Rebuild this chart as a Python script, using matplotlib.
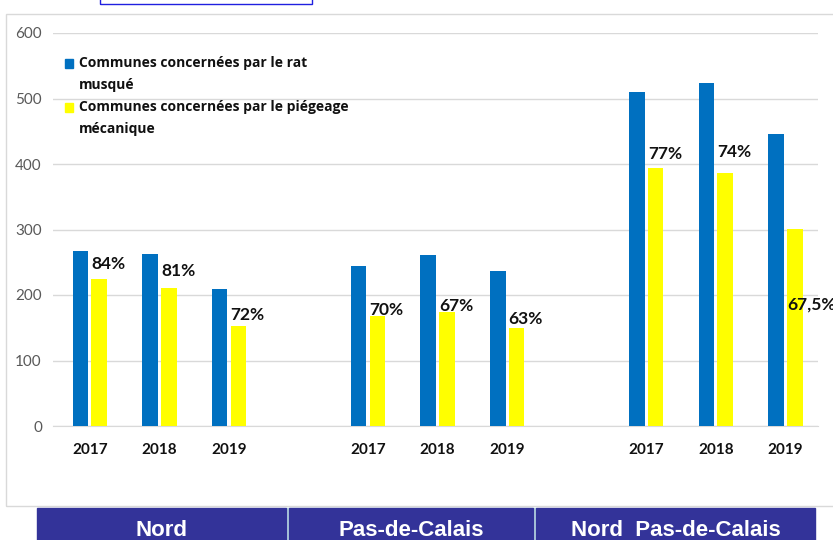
import numpy as np
import matplotlib.pyplot as plt
from matplotlib.patches import Rectangle

# Data
regions = ["Nord", "Pas-de-Calais", "Nord  Pas-de-Calais"]
years = ["2017", "2018", "2019"]
rat = [267, 263, 209, 244, 261, 237, 510, 524, 446]
piegeage = [224, 211, 153, 168, 174, 150, 394, 386, 301]
pct_labels = ["84%", "81%", "72%", "70%", "67%", "63%", "77%", "74%", "67,5%"]
pct_y = [247, 237, 169, 177, 183, 163, 415, 418, 186]
legend_labels = ["Communes concernées par le rat\nmusqué",
                 "Communes concernées par le piégeage\nmécanique"]

BLUE = "#0070C0"
YELLOW = "#FFFF00"
PURPLE = "#333399"

W, H = 833, 540
fig = plt.figure(figsize=(W / 100, H / 100), dpi=100)


def fx(px):
    return px / W


def fy(py):
    return 1 - py / H


# outer chart frame and the small blue box at the top
fig.add_artist(Rectangle((fx(6), fy(506)), fx(840) - fx(6), fy(14) - fy(506),
                         transform=fig.transFigure, fill=False,
                         edgecolor="#D9D9D9", lw=1))
fig.add_artist(Rectangle((fx(100), fy(3.5)), fx(212), fy(-10) - fy(3.5),
                         transform=fig.transFigure, fill=False,
                         edgecolor="#2020E0", lw=1))

ax = fig.add_axes([fx(53), fy(426), fx(818) - fx(53), fy(33) - fy(426)])

x = np.array([0, 1, 2, 4, 5, 6, 8, 9, 10])
bw = 0.225
off = 0.135
ax.bar(x - off, rat, bw, color=BLUE, zorder=3)
ax.bar(x + off, piegeage, bw, color=YELLOW, zorder=3)

for xi, lab, ly in zip(x, pct_labels, pct_y):
    ax.text(xi + off - bw / 2, ly, lab, ha="left", va="center",
            fontsize=12.5, fontweight="bold", family="Lato", color="#111111",
            zorder=4)

ax.set_xlim(-0.53, 10.47)
ax.set_ylim(0, 600)
ax.set_yticks(range(0, 601, 100))
ax.set_xticks(x, years * 3)
ax.grid(axis="y", color="#D9D9D9", lw=1, zorder=0)
ax.tick_params(axis="x", length=0, pad=12)
ax.tick_params(axis="y", length=0, pad=8, labelsize=11, labelcolor="#595959")
for t in ax.get_xticklabels():
    t.set_fontweight("bold")
    t.set_fontsize(11)
    t.set_family("Lato")
    t.set_color("#111111")
for t in ax.get_yticklabels():
    t.set_family("Lato")
for s in ["top", "right", "left"]:
    ax.spines[s].set_visible(False)
ax.spines["bottom"].set_color("#D9D9D9")

# legend drawn by hand so the marker sits on the first line
leg_y = [(63, 85), (107, 129)]
for lab, col, (y1, y2) in zip(legend_labels, [BLUE, YELLOW], leg_y):
    fig.add_artist(Rectangle((fx(65), fy(y1 + 4.5)), fx(8), 8 / H,
                             transform=fig.transFigure, color=col))
    l1, l2 = lab.split("\n")
    fig.text(fx(79), fy(y1), l1, ha="left", va="center", fontsize=10,
             fontweight="bold", family="Open Sans", color="#111111")
    fig.text(fx(79), fy(y2), l2, ha="left", va="center", fontsize=10,
             fontweight="bold", family="Open Sans", color="#111111")

# region banners at the bottom
panels = [(37, 286), (289, 533), (536, 815)]
fig.add_artist(Rectangle((fx(286), fy(540)), fx(250), fy(508) - fy(540),
                         transform=fig.transFigure, color="#BFE0E6"))
for name, (x0, x1) in zip(regions, panels):
    fig.add_artist(Rectangle((fx(x0), fy(540)), fx(x1 - x0), fy(508) - fy(540),
                             transform=fig.transFigure, color=PURPLE))
    fig.text(fx((x0 + x1) / 2), fy(531), name, ha="center", va="center",
             fontsize=16, fontweight="bold", family="Liberation Sans",
             color="white")

fig.savefig("out.png", dpi=100)
